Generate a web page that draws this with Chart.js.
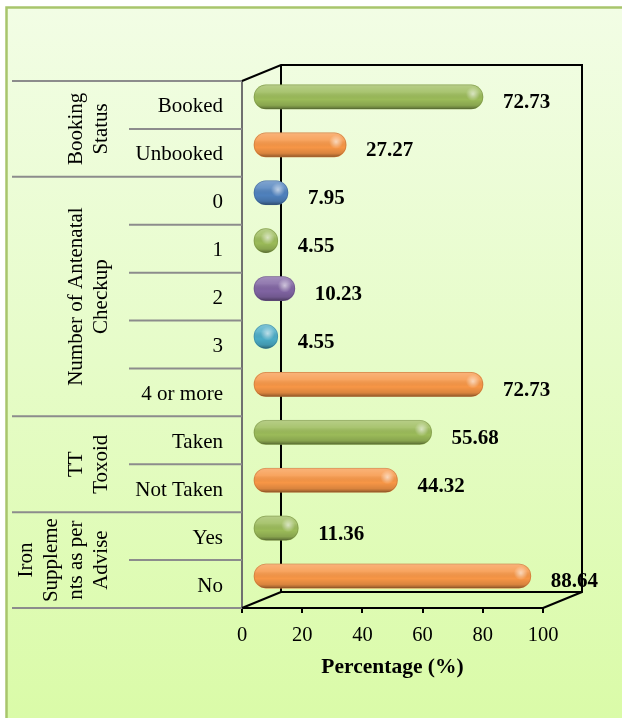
<!DOCTYPE html>
<html>
<head>
<meta charset="utf-8">
<script src="https://cdn.jsdelivr.net/npm/chart.js@4.4.1/dist/chart.umd.min.js"></script>
<style>
  html, body { margin: 0; padding: 0; background: #ffffff; }
  canvas { display: block; }
</style>
</head>
<body>
<canvas id="chart" width="622" height="718"></canvas>
<script>
// Antenatal care indicators (% of respondents)
const categories = ['Booked', 'Unbooked', '0', '1', '2', '3', '4 or more', 'Taken', 'Not Taken', 'Yes', 'No'];
const percentages = [72.73, 27.27, 7.95, 4.55, 10.23, 4.55, 72.73, 55.68, 44.32, 11.36, 88.64];
const groupTitles = [
  ['Booking', 'Status'],
  ['Number of Antenatal', 'Checkup'],
  ['TT', 'Toxoid'],
  ['Iron', 'Suppleme', 'nts as per', 'Advise']
];
const groupSizes = [2, 5, 2, 2];
const xTickValues = [0, 20, 40, 60, 80, 100];
const barColors = ['#9bbb59', '#f79646', '#4f81bd', '#9bbb59', '#8064a2', '#4bacc6',
                   '#f79646', '#9bbb59', '#f79646', '#9bbb59', '#f79646'];

const SERIF = '"Liberation Serif", "Times New Roman", Times, serif';
const WALL_DX = 39, WALL_DY = -16;   // depth of the 3D box
const BAR_DX = 22, BAR_DY = -8;      // bars sit half-way into the box

function rowEdge(yScale, i) {
  const step = (yScale.bottom - yScale.top) / categories.length;
  return yScale.top + i * step;
}

function capsule(ctx, x0, x1, yc, h) {
  const left = Math.min(x0, x1), w = Math.abs(x1 - x0);
  const r = Math.min(h / 2, w / 2);
  ctx.beginPath();
  ctx.roundRect(left, yc - h / 2, w, h, r);
}

const boxPlugin = {
  id: 'box3d',
  beforeDraw(chart) {
    const { ctx, width, height } = chart;
    ctx.save();
    ctx.fillStyle = '#ffffff';
    ctx.fillRect(0, 0, width, height);
    const g = ctx.createLinearGradient(0, 7, 0, height);
    g.addColorStop(0, '#f2fde5');
    g.addColorStop(0.5, '#e6fcc8');
    g.addColorStop(1, '#dafba8');
    ctx.fillStyle = g;
    ctx.fillRect(6, 7, width, height);
    ctx.strokeStyle = '#a8c56c';
    ctx.lineWidth = 2.5;
    ctx.strokeRect(6.5, 7.5, width + 20, height + 20);
    ctx.restore();
  },
  beforeDatasetsDraw(chart) {
    const { ctx, chartArea: a } = chart;
    const yScale = chart.scales.y;
    ctx.save();
    // category separators and group column
    ctx.strokeStyle = '#8c8c8c';
    ctx.lineWidth = 2;
    const groupEdges = [0];
    groupSizes.forEach(n => groupEdges.push(groupEdges[groupEdges.length - 1] + n));
    for (let i = 0; i <= categories.length; i++) {
      const y = rowEdge(yScale, i);
      const x0 = groupEdges.includes(i) ? 12 : 129;
      ctx.beginPath();
      ctx.moveTo(x0, y);
      ctx.lineTo(a.left, y);
      ctx.stroke();
    }
    // back wall and floor edges
    ctx.strokeStyle = '#000000';
    ctx.lineWidth = 2;
    ctx.lineJoin = 'miter';
    ctx.beginPath();
    ctx.moveTo(a.left, a.top);
    ctx.lineTo(a.left + WALL_DX, a.top + WALL_DY);
    ctx.lineTo(a.right + WALL_DX, a.top + WALL_DY);
    ctx.lineTo(a.right + WALL_DX, a.bottom + WALL_DY);
    ctx.lineTo(a.right, a.bottom);
    ctx.stroke();
    ctx.beginPath();
    ctx.moveTo(a.left + WALL_DX, a.top + WALL_DY);
    ctx.lineTo(a.left + WALL_DX, a.bottom + WALL_DY);
    ctx.lineTo(a.right + WALL_DX, a.bottom + WALL_DY);
    ctx.stroke();
    ctx.beginPath();
    ctx.moveTo(a.left, a.bottom);
    ctx.lineTo(a.left + WALL_DX, a.bottom + WALL_DY);
    ctx.stroke();
    // group titles, rotated
    ctx.fillStyle = '#000000';
    ctx.font = '21px ' + SERIF;
    ctx.textAlign = 'center';
    ctx.textBaseline = 'alphabetic';
    groupTitles.forEach((lines, g) => {
      const yc = (rowEdge(yScale, groupEdges[g]) + rowEdge(yScale, groupEdges[g + 1])) / 2;
      ctx.save();
      ctx.translate(107, yc);
      ctx.rotate(-Math.PI / 2);
      lines.forEach((t, j) => ctx.fillText(t, 0, -(lines.length - 1 - j) * 25));
      ctx.restore();
    });
    ctx.restore();
    // bars are drawn half-way back in the box
    ctx.save();
    ctx.translate(BAR_DX, BAR_DY);
  },
  afterDatasetsDraw(chart) {
    const { ctx } = chart;
    const meta = chart.getDatasetMeta(0);
    // cylinder shading on each bar
    meta.data.forEach(el => {
      const { x, y, base, height } = el.getProps(['x', 'y', 'base', 'height'], true);
      ctx.save();
      capsule(ctx, base, x, y, height);
      ctx.clip();
      const top = y - height / 2, bot = y + height / 2;
      const sh = ctx.createLinearGradient(0, top, 0, bot);
      sh.addColorStop(0, 'rgba(255,255,255,0.28)');
      sh.addColorStop(0.3, 'rgba(255,255,255,0.14)');
      sh.addColorStop(0.6, 'rgba(0,0,0,0)');
      sh.addColorStop(0.85, 'rgba(0,0,0,0.12)');
      sh.addColorStop(1, 'rgba(0,0,0,0.40)');
      ctx.fillStyle = sh;
      ctx.fillRect(Math.min(base, x) - 2, top - 2, Math.abs(x - base) + 4, height + 4);
      const hx = x - Math.min(10, Math.abs(x - base) / 2), hy = y - 3;
      const hl = ctx.createRadialGradient(hx, hy, 0, hx, hy, 7);
      hl.addColorStop(0, 'rgba(255,255,255,0.6)');
      hl.addColorStop(1, 'rgba(255,255,255,0)');
      ctx.fillStyle = hl;
      ctx.fillRect(hx - 8, hy - 8, 16, 16);
      ctx.restore();
      capsule(ctx, base, x, y, height);
      ctx.strokeStyle = 'rgba(0,0,0,0.12)';
      ctx.lineWidth = 1;
      ctx.stroke();
    });
    ctx.restore();
    // value labels
    ctx.save();
    ctx.fillStyle = '#000000';
    ctx.font = 'bold 21px ' + SERIF;
    ctx.textAlign = 'left';
    ctx.textBaseline = 'middle';
    meta.data.forEach((el, i) => {
      const { x, y } = el.getProps(['x', 'y'], true);
      ctx.fillText(percentages[i].toFixed(2), x + BAR_DX + 20, y - 2);
    });
    ctx.restore();
  }
};

new Chart(document.getElementById('chart'), {
  type: 'bar',
  data: {
    labels: categories,
    datasets: [{
      data: percentages,
      backgroundColor: barColors,
      borderWidth: 0,
      borderRadius: 12,
      borderSkipped: false,
      barThickness: 24,
      base: -3.3,
      clip: false
    }]
  },
  options: {
    indexAxis: 'y',
    responsive: false,
    animation: false,
    devicePixelRatio: 1,
    layout: { padding: { top: 81, right: 79, left: 0, bottom: 0 } },
    plugins: { legend: { display: false }, tooltip: { enabled: false } },
    scales: {
      x: {
        min: 0,
        max: 100,
        afterBuildTicks: s => { s.ticks = xTickValues.map(v => ({ value: v })); },
        afterFit: s => { s.height = 110; },
        grid: { drawOnChartArea: false, drawTicks: true, tickLength: 5, color: '#000000', lineWidth: 2 },
        border: { display: true, color: '#000000', width: 2 },
        ticks: { font: { family: SERIF, size: 20.5 }, color: '#000000', padding: 10, maxRotation: 0 },
        title: {
          display: true,
          text: 'Percentage (%)',
          font: { family: SERIF, size: 21.5, weight: 'bold' },
          color: '#000000',
          padding: { top: 0, bottom: 38 }
        }
      },
      y: {
        afterFit: s => { s.width = 242; },
        grid: { display: false, drawTicks: false },
        border: { display: true, color: '#707070', width: 2 },
        ticks: { font: { family: SERIF, size: 21 }, color: '#000000', padding: 19, labelOffset: 2, autoSkip: false }
      }
    }
  },
  plugins: [boxPlugin]
});
</script>
</body>
</html>
